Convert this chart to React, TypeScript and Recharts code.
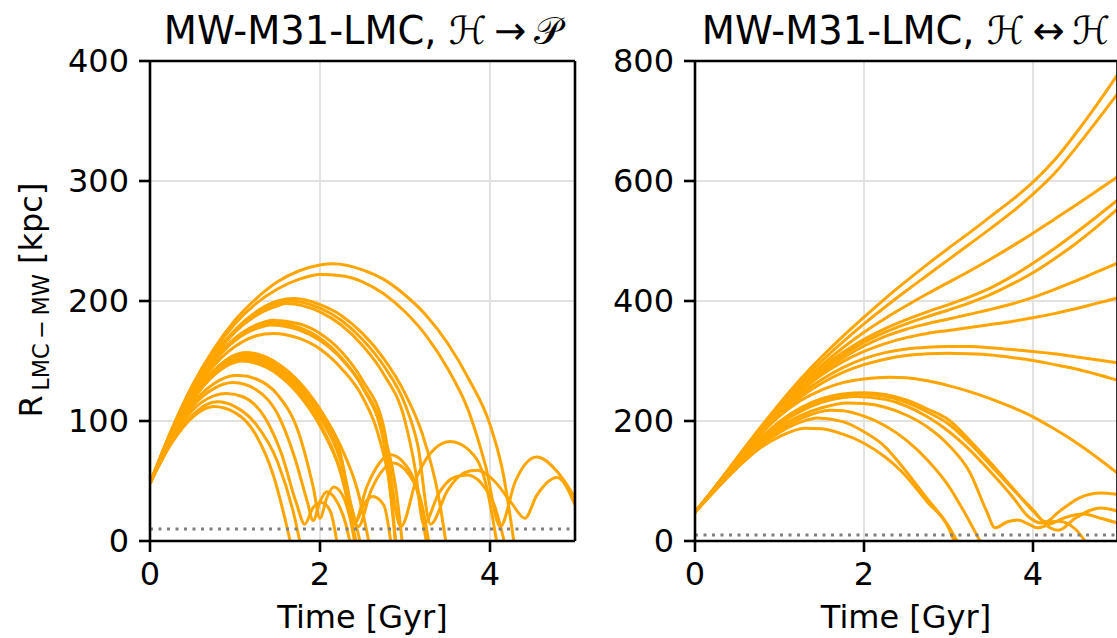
import React from 'react';
import { LineChart, Line, XAxis, YAxis, CartesianGrid, ReferenceLine } from 'recharts';

type Curve = [number, number][];

// ---- Left panel: MW-M31-LMC, H -> P  (time [Gyr], R [kpc]) ----
const l1: Curve = [[0,48],[0.25,92],[0.5,130],[0.75,160],[1,184],[1.25,202],[1.5,216],[1.75,225],[2,230],[2.15,231],[2.5,226],[2.75,218],[3,205],[3.25,188],[3.5,165],[3.75,135],[4,97],[4.15,58],[4.3,-10]];
const l2: Curve = [[0,48],[0.25,92],[0.5,129],[0.75,158],[1,181],[1.25,198],[1.5,210],[1.75,218],[2,222],[2.25,221],[2.5,216],[2.75,206],[3,191],[3.25,171],[3.5,144],[3.75,108],[3.95,62],[4.12,12],[4.3,50],[4.55,70],[4.8,57],[5,36]];
const l3: Curve = [[0,48],[0.25,91],[0.5,127],[0.75,155],[1,176],[1.25,191],[1.5,200],[1.7,202],[2,197],[2.25,188],[2.5,173],[2.75,152],[3,123],[3.2,90],[3.4,35],[3.5,-10]];
const l4: Curve = [[0,48],[0.25,91],[0.5,127],[0.75,154],[1,175],[1.25,190],[1.5,198],[1.65,200],[2,194],[2.25,184],[2.5,168],[2.75,146],[3,114],[3.15,80],[3.3,14],[3.5,42],[3.7,57],[3.85,59],[4.05,50],[4.25,32],[4.41,19],[4.55,38],[4.79,53],[5,30]];
const l5: Curve = [[0,48],[0.25,91],[0.5,126],[0.75,153],[1,174],[1.25,188],[1.5,196],[1.6,198],[2,191],[2.25,180],[2.5,163],[2.75,139],[3,100],[3.12,60],[3.22,14],[3.4,40],[3.55,52],[3.73,55],[3.9,48],[4.05,30],[4.2,-10]];
const l6: Curve = [[0,48],[0.25,90],[0.5,125],[0.75,151],[1,169],[1.25,180],[1.45,184],[1.75,181],[2,173],[2.25,158],[2.5,134],[2.75,95],[2.95,12],[3.15,55],[3.35,77],[3.53,83],[3.75,76],[3.95,48],[4.1,-10]];
const l7: Curve = [[0,48],[0.25,90],[0.5,125],[0.75,150],[1,168],[1.25,179],[1.45,182],[1.75,178],[2,169],[2.25,153],[2.5,128],[2.75,82],[2.9,-10]];
const l8: Curve = [[0,48],[0.25,90],[0.5,124],[0.75,149],[1,167],[1.25,177],[1.42,180],[1.75,176],[2,167],[2.25,152],[2.5,129],[2.75,90],[2.9,40],[2.98,-10]];
const l9: Curve = [[0,48],[0.25,89],[0.5,122],[0.75,146],[1,162],[1.25,171],[1.45,173],[1.75,169],[2,160],[2.25,144],[2.5,120],[2.7,85],[2.85,30],[2.9,-10]];
const l10: Curve = [[0,48],[0.25,88],[0.5,120],[0.75,142],[1,155],[1.12,157],[1.25,156],[1.5,148],[1.75,133],[2,110],[2.25,78],[2.45,40],[2.6,-10]];
const l11: Curve = [[0,48],[0.25,88],[0.5,119],[0.75,141],[1,153],[1.1,155],[1.25,154],[1.5,146],[1.75,131],[2,107],[2.25,70],[2.4,14],[2.55,45],[2.7,65],[2.82,72],[3,64],[3.15,40],[3.27,-10]];
const l12: Curve = [[0,48],[0.25,88],[0.5,119],[0.75,140],[1,152],[1.1,154],[1.25,153],[1.5,145],[1.75,129],[2,105],[2.25,68],[2.45,12],[2.6,42],[2.75,60],[2.86,65],[3.05,55],[3.2,30],[3.3,-10]];
const l13: Curve = [[0,48],[0.25,88],[0.5,118],[0.75,140],[1,151],[1.1,153],[1.25,152],[1.5,143],[1.75,127],[2,103],[2.25,65],[2.42,16],[2.52,31],[2.62,37],[2.75,30],[2.85,-10]];
const l14: Curve = [[0,48],[0.25,87],[0.5,118],[0.75,139],[1,150],[1.1,151],[1.25,150],[1.5,141],[1.75,124],[2,98],[2.25,55],[2.38,15],[2.45,-10]];
const l15: Curve = [[0,48],[0.25,87],[0.5,117],[0.75,138],[1,149],[1.08,150],[1.25,148],[1.5,139],[1.75,122],[2,96],[2.25,57],[2.42,15],[2.5,-10]];
const l16: Curve = [[0,48],[0.25,86],[0.5,114],[0.75,131],[1,138],[1.05,138],[1.25,135],[1.5,122],[1.75,90],[1.92,45],[2.0,19],[2.08,36],[2.16,45],[2.25,40],[2.35,20],[2.43,-10]];
const l17: Curve = [[0,48],[0.25,85],[0.5,112],[0.75,127],[0.98,132],[1.25,126],[1.5,106],[1.7,70],[1.85,33],[1.92,17],[2.0,33],[2.08,41],[2.18,35],[2.3,15],[2.38,-10]];
const l18: Curve = [[0,48],[0.25,84],[0.5,109],[0.75,121],[0.9,123],[1.1,120],[1.35,103],[1.55,72],[1.72,32],[1.82,14],[1.92,28],[2.02,32],[2.12,25],[2.22,-10]];
const l19: Curve = [[0,48],[0.25,82],[0.5,105],[0.79,116],[1,112],[1.25,97],[1.5,66],[1.7,20],[1.79,-10]];
const l20: Curve = [[0,48],[0.25,81],[0.5,103],[0.75,112],[1,107],[1.25,88],[1.45,55],[1.6,15],[1.68,-10]];

// ---- Right panel: MW-M31-LMC, H <-> H ----
const r1: Curve = [[0,48],[0.25,92],[0.5,139],[0.75,185],[1,229],[1.25,270],[1.5,307],[1.75,341],[2,373],[2.25,404],[2.5,433],[2.75,461],[3,488],[3.25,514],[3.5,541],[3.75,568],[4,598],[4.25,634],[4.5,678],[4.75,726],[5,777]];
const r2: Curve = [[0,48],[0.25,92],[0.5,138],[0.75,183],[1,226],[1.25,265],[1.5,300],[1.75,332],[2,362],[2.25,390],[2.5,417],[2.75,443],[3,469],[3.25,495],[3.5,521],[3.75,548],[4,578],[4.25,612],[4.5,654],[4.75,699],[5,745]];
const r3: Curve = [[0,48],[0.25,92],[0.5,138],[0.75,182],[1,223],[1.25,260],[1.5,293],[1.75,322],[2,348],[2.25,371],[2.5,392],[2.75,412],[3,431],[3.25,450],[3.5,470],[3.75,491],[4,513],[4.25,536],[4.5,559],[4.75,583],[5,607]];
const r4: Curve = [[0,48],[0.25,92],[0.5,137],[0.75,181],[1,221],[1.25,257],[1.5,288],[1.75,314],[2,336],[2.25,354],[2.5,369],[2.75,382],[3,394],[3.25,407],[3.5,422],[3.75,441],[4,463],[4.25,487],[4.5,513],[4.75,540],[5,568]];
const r5: Curve = [[0,48],[0.25,92],[0.5,137],[0.75,180],[1,220],[1.25,255],[1.5,285],[1.75,310],[2,331],[2.25,348],[2.5,362],[2.75,374],[3,385],[3.25,397],[3.5,411],[3.75,428],[4,447],[4.25,470],[4.5,495],[4.75,523],[5,553]];
const r6: Curve = [[0,48],[0.25,91],[0.5,136],[0.75,179],[1,218],[1.25,252],[1.5,281],[1.75,305],[2,325],[2.25,341],[2.5,353],[2.75,362],[3,370],[3.25,378],[3.5,386],[3.75,395],[4,406],[4.25,419],[4.5,433],[4.75,448],[5,463]];
const r7: Curve = [[0,48],[0.25,91],[0.5,136],[0.75,178],[1,216],[1.25,249],[1.5,277],[1.75,299],[2,316],[2.25,329],[2.5,339],[2.75,346],[3,351],[3.25,356],[3.5,361],[3.75,366],[4,372],[4.25,379],[4.5,387],[4.75,396],[5,405]];
const r8: Curve = [[0,48],[0.25,91],[0.5,135],[0.75,177],[1,213],[1.25,244],[1.5,269],[1.75,289],[2,304],[2.25,314],[2.5,320],[2.75,323],[3,324],[3.25,324],[3.5,322],[3.75,319],[4,316],[4.25,312],[4.5,307],[4.75,302],[5,297]];
const r9: Curve = [[0,48],[0.25,91],[0.5,135],[0.75,176],[1,211],[1.25,240],[1.5,263],[1.75,281],[2,294],[2.25,303],[2.5,309],[2.75,312],[3,313],[3.25,312],[3.5,310],[3.75,306],[4,301],[4.25,294],[4.5,287],[4.75,278],[5,268]];
const r10: Curve = [[0,48],[0.25,90],[0.5,134],[0.75,174],[1,208],[1.25,234],[1.5,252],[1.75,264],[2,270],[2.3,273],[2.5,272],[2.75,267],[3,259],[3.25,249],[3.5,237],[3.75,223],[4,207],[4.25,187],[4.5,165],[4.75,140],[5,113]];
const r11: Curve = [[0,48],[0.25,89],[0.5,131],[0.75,168],[1,199],[1.25,222],[1.5,237],[1.75,245],[2,247],[2.25,244],[2.5,235],[2.75,220],[3,202],[3.25,168],[3.5,130],[3.75,90],[4,50],[4.15,32],[4.3,48],[4.55,72],[4.8,80],[5,78]];
const r12: Curve = [[0,48],[0.25,89],[0.5,130],[0.75,167],[1,197],[1.25,220],[1.5,235],[1.75,243],[1.95,245],[2.25,241],[2.5,231],[2.75,215],[3,195],[3.25,163],[3.5,126],[3.75,88],[4,52],[4.2,22],[4.3,18],[4.5,38],[4.8,55],[5,50]];
const r13: Curve = [[0,48],[0.25,89],[0.5,130],[0.75,166],[1,195],[1.25,216],[1.5,231],[1.75,239],[1.9,241],[2.25,236],[2.5,225],[2.75,207],[3,183],[3.25,152],[3.5,115],[3.75,75],[3.95,40],[4.1,30],[4.3,33],[4.5,20],[4.64,-5]];
const r14: Curve = [[0,48],[0.25,88],[0.5,128],[0.75,163],[1,190],[1.25,209],[1.5,222],[1.8,230],[2,229],[2.25,223],[2.5,210],[2.75,190],[3,160],[3.25,115],[3.45,50],[3.55,22],[3.7,32],[3.82,35],[3.95,28],[4.05,22],[4.2,28],[4.4,40],[4.6,45],[4.8,38],[5,30]];
const r15: Curve = [[0,48],[0.25,88],[0.5,127],[0.75,160],[1,185],[1.25,204],[1.6,218],[1.75,217],[2,208],[2.25,192],[2.5,168],[2.75,135],[3,92],[3.2,45],[3.39,-5]];
const r16: Curve = [[0,48],[0.25,87],[0.5,125],[0.75,157],[1,181],[1.25,198],[1.45,205],[1.75,199],[2,182],[2.25,157],[2.43,128],[2.75,70],[3,25],[3.12,-5]];
const r17: Curve = [[0,48],[0.25,86],[0.5,122],[0.75,153],[1,174],[1.3,188],[1.5,187],[1.75,178],[2,163],[2.25,140],[2.43,118],[2.75,65],[3,22],[3.08,-5]];

const leftCurves: Curve[] = [l1,l2,l3,l4,l5,l6,l7,l8,l9,l10,l11,l12,l13,l14,l15,l16,l17,l18,l19,l20];
const rightCurves: Curve[] = [r1,r2,r3,r4,r5,r6,r7,r8,r9,r10,r11,r12,r13,r14,r15,r16,r17];

const xTicks = [0, 2, 4];
const xMax = 5;
const leftYTicks = [0, 100, 200, 300, 400];
const rightYTicks = [0, 200, 400, 600, 800];
const floorLevel = 10;
const leftTitle = 'MW-M31-LMC, \u210B\u2009\u2192\u2009\uD835\uDCAB';
const rightTitle = 'MW-M31-LMC, \u210B\u2009\u2194\u2009\u210B';
const xLabel = 'Time [Gyr]';

const FONT = "'DejaVu Sans', Verdana, sans-serif";
const ORANGE = '#FFA500';

const toPts = (c: Curve) => c.map(([t, r]) => ({ t, r }));

type PanelProps = {
  curves: Curve[];
  yTicks: number[];
  yMax: number;
  left: number;
  width: number;
  marginLeft: number;
  marginRight: number;
};

function Panel({ curves, yTicks, yMax, left, width, marginLeft, marginRight }: PanelProps) {
  const tickStyle = { fill: '#000', fontSize: 32, fontFamily: FONT };
  const axisStyle = { stroke: '#000', strokeWidth: 2.6 };
  return (
    <div style={{ position: 'absolute', left, top: 0 }}>
      <LineChart width={width} height={638} margin={{ top: 61, right: marginRight, bottom: 37, left: marginLeft }}>
        <CartesianGrid stroke="#e2e2e2" strokeWidth={2} />
        <XAxis
          type="number"
          dataKey="t"
          domain={[0, xMax]}
          ticks={xTicks}
          interval={0}
          allowDataOverflow
          height={60}
          tickSize={11}
          tickMargin={10}
          tick={tickStyle}
          axisLine={axisStyle}
          tickLine={axisStyle}
        />
        <YAxis
          type="number"
          domain={[0, yMax]}
          ticks={yTicks}
          interval={0}
          allowDataOverflow
          width={80}
          tickSize={11}
          tickMargin={10}
          tick={tickStyle}
          axisLine={axisStyle}
          tickLine={axisStyle}
        />
        {curves.map((c, i) => (
          <Line
            key={i}
            data={toPts(c)}
            dataKey="r"
            type="monotone"
            stroke={ORANGE}
            strokeWidth={3}
            dot={false}
            activeDot={false}
            isAnimationActive={false}
          />
        ))}
        <ReferenceLine y={floorLevel} stroke="#808080" strokeWidth={3} strokeDasharray="3 5.5" />
        <ReferenceLine y={yMax} stroke="#000" strokeWidth={2.6} />
        <ReferenceLine x={xMax} stroke="#000" strokeWidth={2.6} />
      </LineChart>
    </div>
  );
}

export default function App() {
  return (
    <div style={{ position: 'absolute', left: 0, top: 0, width: 1117, height: 638, overflow: 'hidden', background: '#fff' }}>
      <Panel curves={leftCurves} yTicks={leftYTicks} yMax={400} left={0} width={600} marginLeft={70} marginRight={25} />
      <Panel curves={rightCurves} yTicks={rightYTicks} yMax={800} left={610} width={560} marginLeft={5} marginRight={52.5} />
      <svg width={1117} height={638} style={{ position: 'absolute', left: 0, top: 0, pointerEvents: 'none' }} fontFamily={FONT}>
        <text x={362.5} y={44} fontSize={38.4} textAnchor="middle" fill="#000">{leftTitle}</text>
        <text x={906} y={44} fontSize={38.4} textAnchor="middle" fill="#000">{rightTitle}</text>
        <text x={362.5} y={628} fontSize={32} textAnchor="middle" fill="#000">{xLabel}</text>
        <text x={906} y={628} fontSize={32} textAnchor="middle" fill="#000">{xLabel}</text>
        <text transform="rotate(-90)" x={-300} y={42} fontSize={32} textAnchor="middle" fill="#000">
          <tspan>R</tspan>
          <tspan fontSize={22.4} dy={7}>{'\u2009LMC\u2009\u2212\u2009MW'}</tspan>
          <tspan dy={-7}>{' [kpc]'}</tspan>
        </text>
      </svg>
    </div>
  );
}
